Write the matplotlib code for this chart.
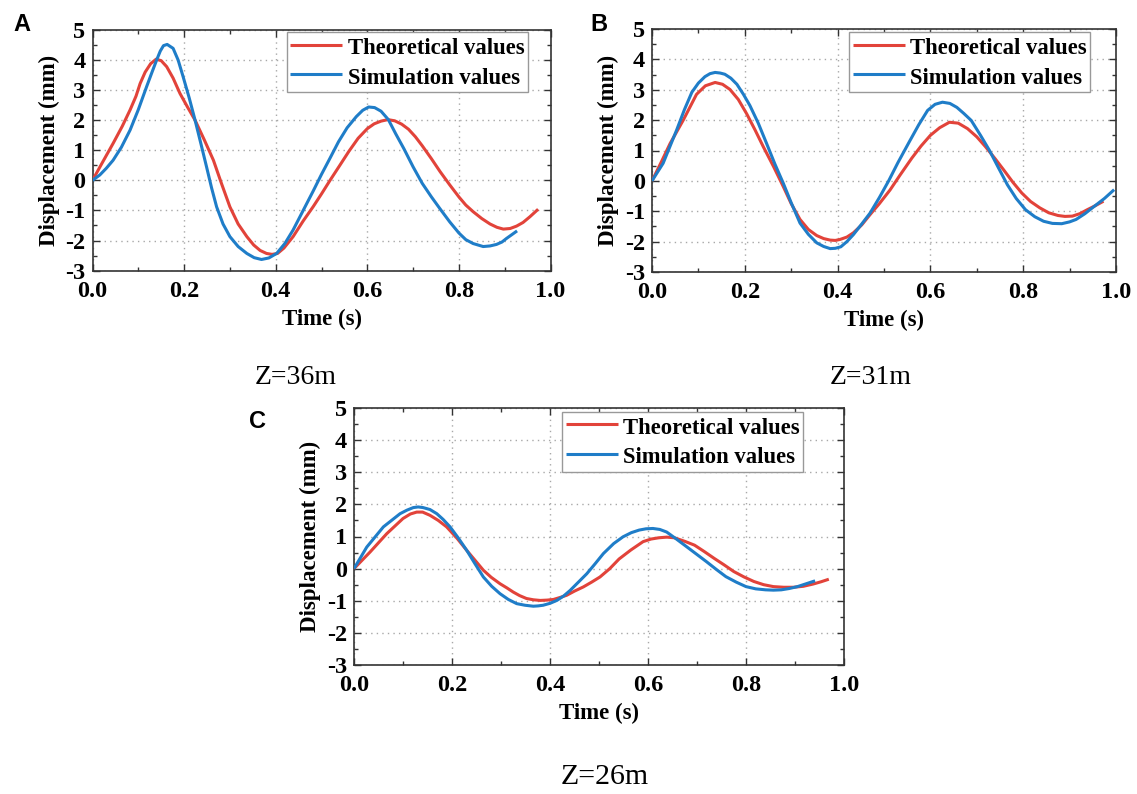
import matplotlib
matplotlib.use("Agg")
import matplotlib.pyplot as plt
from matplotlib.ticker import MultipleLocator

# ---------------- data ----------------
# Panel A (Z=36m)
a_theo_t = [0, 0.02, 0.045, 0.065, 0.082, 0.095, 0.104, 0.115, 0.127, 0.139, 0.15, 0.162, 0.176,
            0.191, 0.207, 0.224, 0.244, 0.264, 0.282, 0.30, 0.318, 0.337, 0.352, 0.366, 0.38,
            0.392, 0.404, 0.418, 0.438, 0.46, 0.482, 0.50, 0.519, 0.54, 0.56, 0.58, 0.60, 0.615,
            0.63, 0.645, 0.66, 0.675, 0.69, 0.705, 0.72, 0.74, 0.759, 0.78, 0.80, 0.815, 0.831,
            0.85, 0.868, 0.883, 0.897, 0.912, 0.926, 0.94, 0.955, 0.973]
a_theo_y = [0, 0.55, 1.23, 1.8, 2.34, 2.8, 3.22, 3.6, 3.88, 4.03, 3.98, 3.78, 3.4,
            2.89, 2.45, 2.0, 1.35, 0.67, -0.12, -0.88, -1.45, -1.87, -2.15, -2.33, -2.43,
            -2.46, -2.43, -2.25, -1.87, -1.35, -0.87, -0.45, 0.01, 0.5, 0.97, 1.4, 1.72, 1.88,
            1.97, 2.02, 1.98, 1.87, 1.7, 1.45, 1.15, 0.72, 0.29, -0.15, -0.55, -0.82, -1.04,
            -1.27, -1.45, -1.56, -1.62, -1.6, -1.52, -1.4, -1.21, -0.96]
a_sim_t = [0, 0.016, 0.03, 0.045, 0.063, 0.082, 0.1, 0.118, 0.13, 0.14, 0.148, 0.155, 0.163,
           0.176, 0.187, 0.198, 0.211, 0.224, 0.237, 0.249, 0.26, 0.271, 0.285, 0.30, 0.318,
           0.337, 0.353, 0.369, 0.385, 0.402, 0.42, 0.438, 0.46, 0.482, 0.50, 0.519, 0.537,
           0.556, 0.576, 0.59, 0.603, 0.616, 0.63, 0.646, 0.662, 0.68, 0.70, 0.72, 0.74, 0.759,
           0.78, 0.80, 0.815, 0.831, 0.853, 0.868, 0.882, 0.894, 0.904, 0.916, 0.927]
a_sim_y = [0, 0.18, 0.4, 0.67, 1.1, 1.67, 2.35, 3.11, 3.6, 4.0, 4.3, 4.48, 4.52,
           4.39, 4.0, 3.44, 2.75, 2.0, 1.2, 0.45, -0.25, -0.88, -1.45, -1.87, -2.2,
           -2.43, -2.57, -2.63, -2.58, -2.43, -2.1, -1.65, -1.0, -0.35, 0.2, 0.75, 1.28,
           1.75, 2.12, 2.33, 2.44, 2.42, 2.3, 2.02, 1.55, 1.05, 0.45, -0.1, -0.55, -0.95,
           -1.38, -1.75, -1.97, -2.1, -2.2, -2.18, -2.13, -2.05, -1.93, -1.8, -1.68]

# Panel B (Z=31m)
b_theo_t = [0, 0.02, 0.039, 0.067, 0.096, 0.115, 0.136, 0.152, 0.168, 0.186, 0.204, 0.222, 0.24,
            0.262, 0.283, 0.30, 0.319, 0.337, 0.355, 0.37, 0.384, 0.395, 0.405, 0.42, 0.434,
            0.452, 0.47, 0.49, 0.513, 0.535, 0.56, 0.58, 0.60, 0.62, 0.641, 0.66, 0.68, 0.70,
            0.719, 0.74, 0.758, 0.778, 0.797, 0.816, 0.836, 0.855, 0.875, 0.89, 0.906, 0.922,
            0.938, 0.955, 0.973]
b_theo_y = [0, 0.62, 1.23, 1.99, 2.85, 3.13, 3.24, 3.18, 3.01, 2.68, 2.21, 1.68, 1.12,
            0.47, -0.19, -0.75, -1.27, -1.6, -1.8, -1.9, -1.95, -1.96, -1.93, -1.85, -1.71,
            -1.45, -1.11, -0.75, -0.3, 0.2, 0.75, 1.15, 1.5, 1.75, 1.93, 1.9, 1.72, 1.45,
            1.12, 0.72, 0.36, -0.05, -0.4, -0.68, -0.89, -1.05, -1.14, -1.17, -1.16, -1.08,
            -0.95, -0.82, -0.67]
b_sim_t = [0, 0.024, 0.053, 0.07, 0.086, 0.1, 0.114, 0.125, 0.136, 0.147, 0.157, 0.17, 0.183,
           0.197, 0.211, 0.229, 0.247, 0.265, 0.283, 0.30, 0.319, 0.337, 0.355, 0.37, 0.384,
           0.395, 0.407, 0.42, 0.434, 0.452, 0.47, 0.49, 0.51, 0.53, 0.555, 0.575, 0.594, 0.61,
           0.626, 0.642, 0.657, 0.672, 0.688, 0.708, 0.727, 0.746, 0.766, 0.785, 0.805, 0.825,
           0.844, 0.863, 0.883, 0.9, 0.914, 0.933, 0.953, 0.975, 0.996]
b_sim_y = [0, 0.58, 1.67, 2.35, 2.92, 3.22, 3.43, 3.53, 3.57, 3.55, 3.51, 3.38, 3.18,
           2.85, 2.48, 1.9, 1.23, 0.55, -0.08, -0.72, -1.39, -1.76, -2.04, -2.16, -2.23,
           -2.22, -2.17, -2.0, -1.77, -1.42, -1.06, -0.55, 0.0, 0.6, 1.3, 1.85, 2.32, 2.52,
           2.59, 2.55, 2.42, 2.22, 1.99, 1.5, 1.01, 0.45, -0.13, -0.58, -0.95, -1.18,
           -1.33, -1.4, -1.41, -1.35, -1.27, -1.08, -0.84, -0.58, -0.29]

# Panel C (Z=26m)
c_theo_t = [0, 0.033, 0.067, 0.1, 0.115, 0.128, 0.14, 0.155, 0.172, 0.189, 0.21, 0.23, 0.247,
            0.264, 0.28, 0.298, 0.312, 0.325, 0.338, 0.352, 0.366, 0.38, 0.394, 0.407, 0.42,
            0.434, 0.45, 0.468, 0.485, 0.502, 0.522, 0.541, 0.565, 0.59, 0.606, 0.622, 0.638,
            0.654, 0.675, 0.695, 0.715, 0.735, 0.755, 0.775, 0.796, 0.816, 0.836, 0.856, 0.877,
            0.897, 0.917, 0.937, 0.953, 0.969]
c_theo_y = [0, 0.52, 1.09, 1.56, 1.7, 1.76, 1.76, 1.66, 1.5, 1.3, 0.95, 0.57, 0.26,
            -0.05, -0.27, -0.47, -0.6, -0.73, -0.84, -0.93, -0.97, -0.99, -0.98, -0.96, -0.9,
            -0.83, -0.7, -0.57, -0.42, -0.26, 0.0, 0.3, 0.58, 0.84, 0.92, 0.96, 0.98,
            0.96, 0.85, 0.73, 0.53, 0.32, 0.12, -0.09, -0.26, -0.4, -0.5, -0.56, -0.58,
            -0.58, -0.55, -0.48, -0.41, -0.33]
c_sim_t = [0, 0.026, 0.06, 0.094, 0.108, 0.121, 0.131, 0.141, 0.155, 0.169, 0.182, 0.196, 0.213,
           0.23, 0.247, 0.264, 0.281, 0.298, 0.315, 0.332, 0.349, 0.366, 0.376, 0.386, 0.4,
           0.414, 0.428, 0.441, 0.458, 0.475, 0.492, 0.509, 0.53, 0.549, 0.566, 0.582, 0.596,
           0.61, 0.624, 0.638, 0.658, 0.679, 0.699, 0.719, 0.739, 0.759, 0.78, 0.80, 0.82,
           0.84, 0.856, 0.872, 0.888, 0.905, 0.923, 0.941]
c_sim_y = [0, 0.67, 1.3, 1.71, 1.82, 1.9, 1.92, 1.9, 1.84, 1.71, 1.53, 1.3, 0.95,
           0.57, 0.15, -0.26, -0.55, -0.78, -0.96, -1.09, -1.14, -1.17, -1.16, -1.14, -1.08,
           -0.99, -0.85, -0.68, -0.42, -0.16, 0.15, 0.47, 0.78, 0.99, 1.12, 1.2, 1.24,
           1.25, 1.22, 1.14, 0.92, 0.68, 0.45, 0.22, -0.02, -0.25, -0.42, -0.56, -0.63,
           -0.66, -0.67, -0.66, -0.62, -0.56, -0.47, -0.38]

series_labels = ["Theoretical values", "Simulation values"]
x_ticks = [0.0, 0.2, 0.4, 0.6, 0.8, 1.0]
x_tick_labels = ["0.0", "0.2", "0.4", "0.6", "0.8", "1.0"]
y_ticks = [-3, -2, -1, 0, 1, 2, 3, 4, 5]
y_tick_labels = ["-3", "-2", "-1", "0", "1", "2", "3", "4", "5"]
panel_letters = ["A", "B", "C"]
captions = ["Z=36m", "Z=31m", "Z=26m"]

# ---------------- style ----------------
W, H = 1137, 794
RED = "#E2433A"
BLUE = "#1F7DC8"
SERIF = ["Liberation Serif", "DejaVu Serif"]
SANS = ["Liberation Sans", "DejaVu Sans"]
LEG_FS = 16.3

fig = plt.figure(figsize=(W / 100, H / 100), dpi=100)


def px_rect(left, top, right, bottom):
    return [left / W, 1 - bottom / H, (right - left) / W, (bottom - top) / H]


def draw_panel(rect_px, theo, sim, legend_px):
    ax = fig.add_axes(px_rect(*rect_px))
    ax.plot(theo[0], theo[1], color=RED, lw=2.2, label=series_labels[0], zorder=3,
            solid_joinstyle="round", solid_capstyle="butt")
    ax.plot(sim[0], sim[1], color=BLUE, lw=2.2, label=series_labels[1], zorder=3,
            solid_joinstyle="round", solid_capstyle="butt")
    ax.set_xlim(0, 1.0)
    ax.set_ylim(-3, 5)
    ax.set_xticks(x_ticks)
    ax.set_xticklabels(x_tick_labels)
    ax.set_yticks(y_ticks)
    ax.set_yticklabels(y_tick_labels)
    ax.xaxis.set_minor_locator(MultipleLocator(0.1))
    ax.yaxis.set_minor_locator(MultipleLocator(0.5))
    ax.tick_params(which="both", direction="in", top=True, right=True, color="#333333")
    ax.tick_params(which="major", length=5, width=1.0)
    ax.tick_params(which="minor", length=3, width=1.0)
    ax.tick_params(axis="x", which="major", pad=7.5)
    ax.tick_params(axis="y", which="major", pad=5)
    for lab in ax.get_xticklabels() + ax.get_yticklabels():
        lab.set_fontfamily(SERIF)
        lab.set_fontweight("bold")
        lab.set_fontsize(17.5)
    ax.set_xlabel("Time (s)", fontfamily=SERIF, fontweight="bold", fontsize=16.5, labelpad=5)
    ax.set_ylabel("Displacement (mm)", fontfamily=SERIF, fontweight="bold", fontsize=16.5,
                  labelpad=4)
    for s in ax.spines.values():
        s.set_color("#333333")
        s.set_linewidth(1.2)
    ax.grid(True, which="major", color="#a8a8a8", linestyle=(0, (1, 3)), linewidth=1.0)
    ax.set_axisbelow(True)
    lx, ly = legend_px
    leg = ax.legend(loc="upper left", bbox_to_anchor=(lx / W, 1 - ly / H),
                    bbox_transform=fig.transFigure, borderaxespad=0,
                    prop={"family": SERIF, "weight": "bold", "size": LEG_FS},
                    handlelength=2.3, handleheight=1.1, handletextpad=0.25, borderpad=0.15,
                    labelspacing=0.26, fancybox=False, framealpha=1,
                    edgecolor="#999999")
    leg.get_frame().set_linewidth(1.0)
    return ax


draw_panel((92.5, 30, 550.5, 270.6), (a_theo_t, a_theo_y), (a_sim_t, a_sim_y), (286.7, 32.3))
draw_panel((652, 29, 1116, 272), (b_theo_t, b_theo_y), (b_sim_t, b_sim_y), (849.3, 32.3))
draw_panel((354, 408, 844, 665), (c_theo_t, c_theo_y), (c_sim_t, c_sim_y), (562.3, 411.7))

# panel letters
for letter, (x, y) in zip(panel_letters, [(21.5, 24.5), (599, 24.5), (258, 422)]):
    fig.text(x / W, 1 - y / H, letter, fontfamily=SANS, fontweight="bold", fontsize=17,
             ha="center", va="center")

# captions
for cap, (x, y, fs) in zip(captions, [(296, 378, 20), (871, 378, 20), (605, 777, 21.5)]):
    fig.text(x / W, 1 - y / H, cap, fontfamily=SERIF, fontsize=fs, ha="center", va="center")

fig.savefig("out.png", dpi=100)
